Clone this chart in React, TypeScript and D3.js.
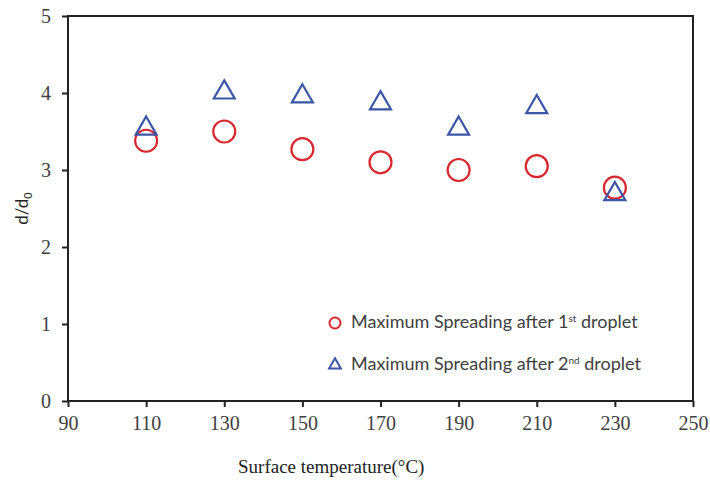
import React, { useEffect, useRef } from 'react';
import * as d3 from 'd3';

const temps = [110, 130, 150, 170, 190, 210, 230];
const first = [3.38, 3.5, 3.27, 3.1, 3.0, 3.05, 2.77];
const second = [3.55, 4.02, 3.97, 3.88, 3.55, 3.83, 2.7];
const xTicks = [90, 110, 130, 150, 170, 190, 210, 230, 250];
const yTicks = [0, 1, 2, 3, 4, 5];

const App = () => {
  const ref = useRef<SVGSVGElement>(null);

  useEffect(() => {
    const width = 710;
    const height = 481;
    const m = { left: 68, top: 16, right: 17, bottom: 80 };

    const svg = d3.select(ref.current);
    svg.selectAll('*').remove();

    const x = d3.scaleLinear().domain([90, 250]).range([m.left, width - m.right]);
    const y = d3.scaleLinear().domain([0, 5]).range([height - m.bottom, m.top]);

    const red = '#d7282f';
    const blue = '#3b56a6';
    const serif = '"Liberation Serif", "DejaVu Serif", serif';
    const sans = 'Lato, "Open Sans", sans-serif';

    // frame
    svg.append('rect')
      .attr('x', x(90)).attr('y', y(5))
      .attr('width', x(250) - x(90)).attr('height', y(0) - y(5))
      .attr('fill', 'none').attr('stroke', '#222').attr('stroke-width', 2);

    const xAxis = svg.append('g')
      .attr('transform', `translate(0,${y(0)})`)
      .attr('font-family', serif)
      .call(d3.axisBottom(x).tickValues(xTicks).tickSize(6).tickPadding(9).tickFormat(d3.format('d')));
    xAxis.select('.domain').remove();

    const yAxis = svg.append('g')
      .attr('transform', `translate(${x(90)},0)`)
      .call(d3.axisLeft(y).tickValues(yTicks).tickSize(6).tickPadding(11).tickFormat(d3.format('d')));
    yAxis.select('.domain').remove();

    [xAxis, yAxis].forEach(g => {
      g.attr('font-family', serif).attr('font-size', 20);
      g.selectAll('line').attr('stroke', '#222').attr('stroke-width', 2);
      g.selectAll('text').attr('fill', '#404040');
    });

    // circles
    svg.append('g').selectAll('circle')
      .data(temps)
      .join('circle')
      .attr('cx', d => x(d))
      .attr('cy', (d, i) => y(first[i]))
      .attr('r', 11)
      .attr('fill', 'none').attr('stroke', red).attr('stroke-width', 2.2);

    const tri = d3.symbol().type(d3.symbolTriangle).size(190);
    svg.append('g').selectAll('path')
      .data(temps)
      .join('path')
      .attr('d', tri)
      .attr('transform', (d, i) => `translate(${x(d)},${y(second[i]) + 1})`)
      .attr('fill', 'none').attr('stroke', blue).attr('stroke-width', 2.2);

    // legend
    const lg = svg.append('g').style('font', `18px ${sans}`).attr('fill', '#404040');
    lg.append('circle').attr('cx', 335).attr('cy', 323).attr('r', 5.5)
      .attr('fill', 'none').attr('stroke', red).attr('stroke-width', 2);
    lg.append('path').attr('d', d3.symbol().type(d3.symbolTriangle).size(60))
      .attr('transform', 'translate(335,365)')
      .attr('fill', 'none').attr('stroke', blue).attr('stroke-width', 2);

    const t1 = lg.append('text').attr('x', 351).attr('y', 328);
    t1.append('tspan').text('Maximum Spreading after 1');
    t1.append('tspan').attr('dy', -6).style('font-size', '10px').text('st');
    t1.append('tspan').attr('dy', 6).text(' droplet');

    const t2 = lg.append('text').attr('x', 351).attr('y', 370);
    t2.append('tspan').text('Maximum Spreading after 2');
    t2.append('tspan').attr('dy', -6).style('font-size', '10px').text('nd');
    t2.append('tspan').attr('dy', 6).text(' droplet');

    // axis titles
    svg.append('text')
      .attr('x', 238).attr('y', 473)
      .attr('fill', '#222')
      .style('font', `19px ${serif}`)
      .text('Surface temperature(°C)');

    const yl = svg.append('text')
      .attr('transform', `translate(28,${(y(0) + y(5)) / 2}) rotate(-90)`)
      .attr('text-anchor', 'middle').attr('fill', '#222')
      .style('font', `17px ${sans}`);
    yl.append('tspan').text('d/d');
    yl.append('tspan').attr('dy', 4).style('font-size', '11px').text('0');
  }, []);

  return (
    <svg ref={ref} width={710} height={481}
      style={{ position: 'absolute', left: 0, top: 0, background: '#fff' }} />
  );
};

export default App;
